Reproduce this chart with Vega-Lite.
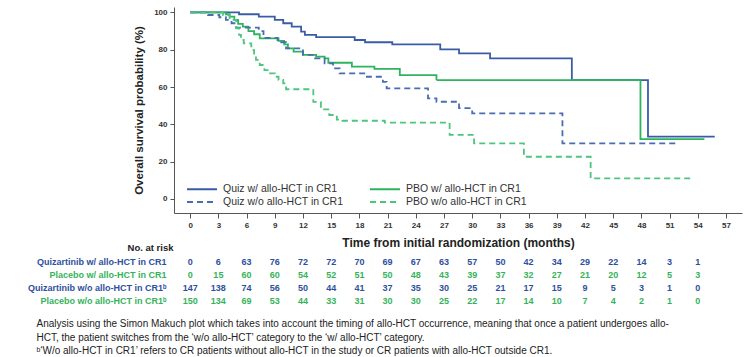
{
  "$schema": "https://vega.github.io/schema/vega-lite/v6.json",
  "padding": {"left": 27, "top": 7, "right": 6, "bottom": 2},
  "bounds": "flush",
  "spacing": 42,
  "config": {
    "font": "Liberation Sans",
    "view": {"stroke": null},
    "axis": {"grid": false, "domainColor": "#555", "tickColor": "#555", "labelColor": "#333", "titleColor": "#222"},
    "legend": {
      "orient": "none", "legendX": 21, "legendY": 175, "columns": 2,
      "symbolType": "M-2.5,0H2.5", "symbolSize": 144, "symbolStrokeWidth": 1.8,
      "labelOffset": 14, "labelFontSize": 10.5, "labelColor": "#333", "columnPadding": 22, "rowPadding": -2
    }
  },
  "resolve": {"scale": {"color": "independent", "x": "independent", "y": "independent"}},
  "title": {
    "text": [
      "Analysis using the Simon Makuch plot which takes into account the timing of allo-HCT occurrence, meaning that once a patient undergoes allo-",
      "HCT, the patient switches from the ‘w/o allo-HCT’ category to the ‘w/ allo-HCT’ category.",
      "ᵇ‘W/o allo-HCT in CR1’ refers to CR patients without allo-HCT in the study or CR patients with allo-HCT outside CR1."
    ],
    "orient": "bottom", "anchor": "start", "fontSize": 10, "fontWeight": "normal",
    "color": "#222", "lineHeight": 13.5, "offset": 12, "dx": 9
  },
  "datasets": {
    "curves": [
      {"group": "Quiz w/ allo-HCT in CR1", "t": 0, "s": 100},
      {"group": "Quiz w/ allo-HCT in CR1", "t": 5.2, "s": 99},
      {"group": "Quiz w/ allo-HCT in CR1", "t": 7.3, "s": 97.7},
      {"group": "Quiz w/ allo-HCT in CR1", "t": 9, "s": 96},
      {"group": "Quiz w/ allo-HCT in CR1", "t": 9.9, "s": 94.2},
      {"group": "Quiz w/ allo-HCT in CR1", "t": 10.8, "s": 92.4},
      {"group": "Quiz w/ allo-HCT in CR1", "t": 11.8, "s": 89.7},
      {"group": "Quiz w/ allo-HCT in CR1", "t": 12.2, "s": 88},
      {"group": "Quiz w/ allo-HCT in CR1", "t": 13.4, "s": 86.7},
      {"group": "Quiz w/ allo-HCT in CR1", "t": 17.5, "s": 85.2},
      {"group": "Quiz w/ allo-HCT in CR1", "t": 18.6, "s": 84},
      {"group": "Quiz w/ allo-HCT in CR1", "t": 21.5, "s": 82.9},
      {"group": "Quiz w/ allo-HCT in CR1", "t": 26.6, "s": 80.2},
      {"group": "Quiz w/ allo-HCT in CR1", "t": 28.6, "s": 78},
      {"group": "Quiz w/ allo-HCT in CR1", "t": 31.9, "s": 75.4},
      {"group": "Quiz w/ allo-HCT in CR1", "t": 40.6, "s": 63.7},
      {"group": "Quiz w/ allo-HCT in CR1", "t": 48.7, "s": 33.4},
      {"group": "Quiz w/ allo-HCT in CR1", "t": 55.8, "s": 33.4},

      {"group": "PBO w/ allo-HCT in CR1", "t": 0, "s": 100},
      {"group": "PBO w/ allo-HCT in CR1", "t": 3.8, "s": 99},
      {"group": "PBO w/ allo-HCT in CR1", "t": 4.2, "s": 97.7},
      {"group": "PBO w/ allo-HCT in CR1", "t": 4.7, "s": 96},
      {"group": "PBO w/ allo-HCT in CR1", "t": 5.1, "s": 93.8},
      {"group": "PBO w/ allo-HCT in CR1", "t": 5.6, "s": 92.4},
      {"group": "PBO w/ allo-HCT in CR1", "t": 6.2, "s": 90},
      {"group": "PBO w/ allo-HCT in CR1", "t": 6.8, "s": 88.3},
      {"group": "PBO w/ allo-HCT in CR1", "t": 7.4, "s": 86.1},
      {"group": "PBO w/ allo-HCT in CR1", "t": 9.4, "s": 84.7},
      {"group": "PBO w/ allo-HCT in CR1", "t": 10, "s": 82.9},
      {"group": "PBO w/ allo-HCT in CR1", "t": 10.4, "s": 80.7},
      {"group": "PBO w/ allo-HCT in CR1", "t": 11, "s": 79},
      {"group": "PBO w/ allo-HCT in CR1", "t": 12, "s": 77.2},
      {"group": "PBO w/ allo-HCT in CR1", "t": 13.4, "s": 76.3},
      {"group": "PBO w/ allo-HCT in CR1", "t": 14.3, "s": 75.4},
      {"group": "PBO w/ allo-HCT in CR1", "t": 14.7, "s": 73},
      {"group": "PBO w/ allo-HCT in CR1", "t": 17.2, "s": 70.9},
      {"group": "PBO w/ allo-HCT in CR1", "t": 19.6, "s": 69.7},
      {"group": "PBO w/ allo-HCT in CR1", "t": 22.3, "s": 66.4},
      {"group": "PBO w/ allo-HCT in CR1", "t": 26.2, "s": 63.7},
      {"group": "PBO w/ allo-HCT in CR1", "t": 47.9, "s": 32},
      {"group": "PBO w/ allo-HCT in CR1", "t": 54.7, "s": 32},

      {"group": "Quiz w/o allo-HCT in CR1", "t": 0, "s": 100},
      {"group": "Quiz w/o allo-HCT in CR1", "t": 1.9, "s": 98.6},
      {"group": "Quiz w/o allo-HCT in CR1", "t": 3.1, "s": 97.4},
      {"group": "Quiz w/o allo-HCT in CR1", "t": 3.8, "s": 96},
      {"group": "Quiz w/o allo-HCT in CR1", "t": 4.4, "s": 94.2},
      {"group": "Quiz w/o allo-HCT in CR1", "t": 4.9, "s": 91.8},
      {"group": "Quiz w/o allo-HCT in CR1", "t": 7.3, "s": 90},
      {"group": "Quiz w/o allo-HCT in CR1", "t": 7.8, "s": 86.3},
      {"group": "Quiz w/o allo-HCT in CR1", "t": 9.3, "s": 84},
      {"group": "Quiz w/o allo-HCT in CR1", "t": 10.2, "s": 80.7},
      {"group": "Quiz w/o allo-HCT in CR1", "t": 12, "s": 77.2},
      {"group": "Quiz w/o allo-HCT in CR1", "t": 13.2, "s": 75.4},
      {"group": "Quiz w/o allo-HCT in CR1", "t": 14.3, "s": 72.7},
      {"group": "Quiz w/o allo-HCT in CR1", "t": 15.2, "s": 70},
      {"group": "Quiz w/o allo-HCT in CR1", "t": 15.9, "s": 67.3},
      {"group": "Quiz w/o allo-HCT in CR1", "t": 18.8, "s": 65.5},
      {"group": "Quiz w/o allo-HCT in CR1", "t": 20.5, "s": 62.8},
      {"group": "Quiz w/o allo-HCT in CR1", "t": 20.9, "s": 59.3},
      {"group": "Quiz w/o allo-HCT in CR1", "t": 25.3, "s": 53.9},
      {"group": "Quiz w/o allo-HCT in CR1", "t": 26.2, "s": 52.1},
      {"group": "Quiz w/o allo-HCT in CR1", "t": 28.6, "s": 48.7},
      {"group": "Quiz w/o allo-HCT in CR1", "t": 30, "s": 45.9},
      {"group": "Quiz w/o allo-HCT in CR1", "t": 39.6, "s": 29.8},
      {"group": "Quiz w/o allo-HCT in CR1", "t": 51.9, "s": 29.8},

      {"group": "PBO w/o allo-HCT in CR1", "t": 0, "s": 100},
      {"group": "PBO w/o allo-HCT in CR1", "t": 3.5, "s": 98.5},
      {"group": "PBO w/o allo-HCT in CR1", "t": 4.2, "s": 96},
      {"group": "PBO w/o allo-HCT in CR1", "t": 4.9, "s": 91.5},
      {"group": "PBO w/o allo-HCT in CR1", "t": 5.2, "s": 88},
      {"group": "PBO w/o allo-HCT in CR1", "t": 5.4, "s": 85.2},
      {"group": "PBO w/o allo-HCT in CR1", "t": 5.7, "s": 83.4},
      {"group": "PBO w/o allo-HCT in CR1", "t": 6.5, "s": 79.8},
      {"group": "PBO w/o allo-HCT in CR1", "t": 6.8, "s": 77.2},
      {"group": "PBO w/o allo-HCT in CR1", "t": 7, "s": 74.5},
      {"group": "PBO w/o allo-HCT in CR1", "t": 7.4, "s": 71.8},
      {"group": "PBO w/o allo-HCT in CR1", "t": 7.9, "s": 69.1},
      {"group": "PBO w/o allo-HCT in CR1", "t": 8.4, "s": 67.3},
      {"group": "PBO w/o allo-HCT in CR1", "t": 9, "s": 65.5},
      {"group": "PBO w/o allo-HCT in CR1", "t": 9.4, "s": 63.8},
      {"group": "PBO w/o allo-HCT in CR1", "t": 9.9, "s": 62},
      {"group": "PBO w/o allo-HCT in CR1", "t": 10.2, "s": 58.8},
      {"group": "PBO w/o allo-HCT in CR1", "t": 13.1, "s": 52},
      {"group": "PBO w/o allo-HCT in CR1", "t": 13.9, "s": 48},
      {"group": "PBO w/o allo-HCT in CR1", "t": 14.8, "s": 45},
      {"group": "PBO w/o allo-HCT in CR1", "t": 15.6, "s": 42.5},
      {"group": "PBO w/o allo-HCT in CR1", "t": 16.2, "s": 41.9},
      {"group": "PBO w/o allo-HCT in CR1", "t": 20.7, "s": 40.9},
      {"group": "PBO w/o allo-HCT in CR1", "t": 27.6, "s": 34.3},
      {"group": "PBO w/o allo-HCT in CR1", "t": 30.2, "s": 29.8},
      {"group": "PBO w/o allo-HCT in CR1", "t": 35.5, "s": 22.6},
      {"group": "PBO w/o allo-HCT in CR1", "t": 42.6, "s": 11},
      {"group": "PBO w/o allo-HCT in CR1", "t": 53.3, "s": 11}
    ],
    "risk": [
      {"row": "Quizartinib w/ allo-HCT in CR1", "arm": "Quizartinib", "t": 0, "n": 0},
      {"row": "Quizartinib w/ allo-HCT in CR1", "arm": "Quizartinib", "t": 3, "n": 6},
      {"row": "Quizartinib w/ allo-HCT in CR1", "arm": "Quizartinib", "t": 6, "n": 63},
      {"row": "Quizartinib w/ allo-HCT in CR1", "arm": "Quizartinib", "t": 9, "n": 76},
      {"row": "Quizartinib w/ allo-HCT in CR1", "arm": "Quizartinib", "t": 12, "n": 72},
      {"row": "Quizartinib w/ allo-HCT in CR1", "arm": "Quizartinib", "t": 15, "n": 72},
      {"row": "Quizartinib w/ allo-HCT in CR1", "arm": "Quizartinib", "t": 18, "n": 70},
      {"row": "Quizartinib w/ allo-HCT in CR1", "arm": "Quizartinib", "t": 21, "n": 69},
      {"row": "Quizartinib w/ allo-HCT in CR1", "arm": "Quizartinib", "t": 24, "n": 67},
      {"row": "Quizartinib w/ allo-HCT in CR1", "arm": "Quizartinib", "t": 27, "n": 63},
      {"row": "Quizartinib w/ allo-HCT in CR1", "arm": "Quizartinib", "t": 30, "n": 57},
      {"row": "Quizartinib w/ allo-HCT in CR1", "arm": "Quizartinib", "t": 33, "n": 50},
      {"row": "Quizartinib w/ allo-HCT in CR1", "arm": "Quizartinib", "t": 36, "n": 42},
      {"row": "Quizartinib w/ allo-HCT in CR1", "arm": "Quizartinib", "t": 39, "n": 34},
      {"row": "Quizartinib w/ allo-HCT in CR1", "arm": "Quizartinib", "t": 42, "n": 29},
      {"row": "Quizartinib w/ allo-HCT in CR1", "arm": "Quizartinib", "t": 45, "n": 22},
      {"row": "Quizartinib w/ allo-HCT in CR1", "arm": "Quizartinib", "t": 48, "n": 14},
      {"row": "Quizartinib w/ allo-HCT in CR1", "arm": "Quizartinib", "t": 51, "n": 3},
      {"row": "Quizartinib w/ allo-HCT in CR1", "arm": "Quizartinib", "t": 54, "n": 1},

      {"row": "Placebo w/ allo-HCT in CR1", "arm": "Placebo", "t": 0, "n": 0},
      {"row": "Placebo w/ allo-HCT in CR1", "arm": "Placebo", "t": 3, "n": 15},
      {"row": "Placebo w/ allo-HCT in CR1", "arm": "Placebo", "t": 6, "n": 60},
      {"row": "Placebo w/ allo-HCT in CR1", "arm": "Placebo", "t": 9, "n": 60},
      {"row": "Placebo w/ allo-HCT in CR1", "arm": "Placebo", "t": 12, "n": 54},
      {"row": "Placebo w/ allo-HCT in CR1", "arm": "Placebo", "t": 15, "n": 52},
      {"row": "Placebo w/ allo-HCT in CR1", "arm": "Placebo", "t": 18, "n": 51},
      {"row": "Placebo w/ allo-HCT in CR1", "arm": "Placebo", "t": 21, "n": 50},
      {"row": "Placebo w/ allo-HCT in CR1", "arm": "Placebo", "t": 24, "n": 48},
      {"row": "Placebo w/ allo-HCT in CR1", "arm": "Placebo", "t": 27, "n": 43},
      {"row": "Placebo w/ allo-HCT in CR1", "arm": "Placebo", "t": 30, "n": 39},
      {"row": "Placebo w/ allo-HCT in CR1", "arm": "Placebo", "t": 33, "n": 37},
      {"row": "Placebo w/ allo-HCT in CR1", "arm": "Placebo", "t": 36, "n": 32},
      {"row": "Placebo w/ allo-HCT in CR1", "arm": "Placebo", "t": 39, "n": 27},
      {"row": "Placebo w/ allo-HCT in CR1", "arm": "Placebo", "t": 42, "n": 21},
      {"row": "Placebo w/ allo-HCT in CR1", "arm": "Placebo", "t": 45, "n": 20},
      {"row": "Placebo w/ allo-HCT in CR1", "arm": "Placebo", "t": 48, "n": 12},
      {"row": "Placebo w/ allo-HCT in CR1", "arm": "Placebo", "t": 51, "n": 5},
      {"row": "Placebo w/ allo-HCT in CR1", "arm": "Placebo", "t": 54, "n": 3},

      {"row": "Quizartinib w/o allo-HCT in CR1ᵇ", "arm": "Quizartinib", "t": 0, "n": 147},
      {"row": "Quizartinib w/o allo-HCT in CR1ᵇ", "arm": "Quizartinib", "t": 3, "n": 138},
      {"row": "Quizartinib w/o allo-HCT in CR1ᵇ", "arm": "Quizartinib", "t": 6, "n": 74},
      {"row": "Quizartinib w/o allo-HCT in CR1ᵇ", "arm": "Quizartinib", "t": 9, "n": 56},
      {"row": "Quizartinib w/o allo-HCT in CR1ᵇ", "arm": "Quizartinib", "t": 12, "n": 50},
      {"row": "Quizartinib w/o allo-HCT in CR1ᵇ", "arm": "Quizartinib", "t": 15, "n": 44},
      {"row": "Quizartinib w/o allo-HCT in CR1ᵇ", "arm": "Quizartinib", "t": 18, "n": 41},
      {"row": "Quizartinib w/o allo-HCT in CR1ᵇ", "arm": "Quizartinib", "t": 21, "n": 37},
      {"row": "Quizartinib w/o allo-HCT in CR1ᵇ", "arm": "Quizartinib", "t": 24, "n": 35},
      {"row": "Quizartinib w/o allo-HCT in CR1ᵇ", "arm": "Quizartinib", "t": 27, "n": 30},
      {"row": "Quizartinib w/o allo-HCT in CR1ᵇ", "arm": "Quizartinib", "t": 30, "n": 25},
      {"row": "Quizartinib w/o allo-HCT in CR1ᵇ", "arm": "Quizartinib", "t": 33, "n": 21},
      {"row": "Quizartinib w/o allo-HCT in CR1ᵇ", "arm": "Quizartinib", "t": 36, "n": 17},
      {"row": "Quizartinib w/o allo-HCT in CR1ᵇ", "arm": "Quizartinib", "t": 39, "n": 15},
      {"row": "Quizartinib w/o allo-HCT in CR1ᵇ", "arm": "Quizartinib", "t": 42, "n": 9},
      {"row": "Quizartinib w/o allo-HCT in CR1ᵇ", "arm": "Quizartinib", "t": 45, "n": 5},
      {"row": "Quizartinib w/o allo-HCT in CR1ᵇ", "arm": "Quizartinib", "t": 48, "n": 3},
      {"row": "Quizartinib w/o allo-HCT in CR1ᵇ", "arm": "Quizartinib", "t": 51, "n": 1},
      {"row": "Quizartinib w/o allo-HCT in CR1ᵇ", "arm": "Quizartinib", "t": 54, "n": 0},

      {"row": "Placebo w/o allo-HCT in CR1ᵇ", "arm": "Placebo", "t": 0, "n": 150},
      {"row": "Placebo w/o allo-HCT in CR1ᵇ", "arm": "Placebo", "t": 3, "n": 134},
      {"row": "Placebo w/o allo-HCT in CR1ᵇ", "arm": "Placebo", "t": 6, "n": 69},
      {"row": "Placebo w/o allo-HCT in CR1ᵇ", "arm": "Placebo", "t": 9, "n": 53},
      {"row": "Placebo w/o allo-HCT in CR1ᵇ", "arm": "Placebo", "t": 12, "n": 44},
      {"row": "Placebo w/o allo-HCT in CR1ᵇ", "arm": "Placebo", "t": 15, "n": 33},
      {"row": "Placebo w/o allo-HCT in CR1ᵇ", "arm": "Placebo", "t": 18, "n": 31},
      {"row": "Placebo w/o allo-HCT in CR1ᵇ", "arm": "Placebo", "t": 21, "n": 30},
      {"row": "Placebo w/o allo-HCT in CR1ᵇ", "arm": "Placebo", "t": 24, "n": 30},
      {"row": "Placebo w/o allo-HCT in CR1ᵇ", "arm": "Placebo", "t": 27, "n": 25},
      {"row": "Placebo w/o allo-HCT in CR1ᵇ", "arm": "Placebo", "t": 30, "n": 22},
      {"row": "Placebo w/o allo-HCT in CR1ᵇ", "arm": "Placebo", "t": 33, "n": 17},
      {"row": "Placebo w/o allo-HCT in CR1ᵇ", "arm": "Placebo", "t": 36, "n": 14},
      {"row": "Placebo w/o allo-HCT in CR1ᵇ", "arm": "Placebo", "t": 39, "n": 10},
      {"row": "Placebo w/o allo-HCT in CR1ᵇ", "arm": "Placebo", "t": 42, "n": 7},
      {"row": "Placebo w/o allo-HCT in CR1ᵇ", "arm": "Placebo", "t": 45, "n": 4},
      {"row": "Placebo w/o allo-HCT in CR1ᵇ", "arm": "Placebo", "t": 48, "n": 2},
      {"row": "Placebo w/o allo-HCT in CR1ᵇ", "arm": "Placebo", "t": 51, "n": 1},
      {"row": "Placebo w/o allo-HCT in CR1ᵇ", "arm": "Placebo", "t": 54, "n": 0}
    ]
  },
  "vconcat": [
    {
      "width": 568,
      "height": 206,
      "data": {"name": "curves"},
      "mark": {"type": "line", "interpolate": "step-after", "strokeWidth": 1.8},
      "encoding": {
        "x": {
          "field": "t", "type": "quantitative",
          "scale": {"domain": [-1.72, 58.7], "nice": false, "zero": false},
          "axis": {
            "values": [0, 3, 6, 9, 12, 15, 18, 21, 24, 27, 30, 33, 36, 39, 42, 45, 48, 51, 54, 57],
            "title": "Time from initial randomization (months)",
            "tickSize": 5, "labelPadding": 3, "labelFontSize": 8, "labelFontWeight": "bold",
            "titleFontSize": 12, "titleFontWeight": "bold", "titlePadding": 8
          }
        },
        "y": {
          "field": "s", "type": "quantitative",
          "scale": {"domain": [-7.56, 102.9], "nice": false, "zero": false},
          "axis": {
            "values": [0, 20, 40, 60, 80, 100],
            "title": "Overall survival probability (%)",
            "tickSize": 4, "labelPadding": 3, "labelFontSize": 8, "labelFontWeight": "bold",
            "titleFontSize": 11.5, "titleFontWeight": "bold", "titlePadding": 9
          }
        },
        "color": {
          "field": "group", "type": "nominal",
          "scale": {
            "domain": ["Quiz w/ allo-HCT in CR1", "Quiz w/o allo-HCT in CR1", "PBO w/ allo-HCT in CR1", "PBO w/o allo-HCT in CR1"],
            "range": ["#3a5ca7", "#4a6cb3", "#2eb35e", "#4cc57d"]
          },
          "legend": {
            "title": null,
            "encode": {
              "symbols": {
                "update": {
                  "strokeDash": {"signal": "indexof(datum.value, 'w/o') >= 0 ? [6, 4] : [1, 0]"}
                }
              }
            }
          }
        },
        "strokeDash": {
          "field": "group", "type": "nominal",
          "scale": {
            "domain": ["Quiz w/ allo-HCT in CR1", "Quiz w/o allo-HCT in CR1", "PBO w/ allo-HCT in CR1", "PBO w/o allo-HCT in CR1"],
            "range": [[1, 0], [6, 4], [1, 0], [6, 4]]
          },
          "legend": null
        }
      }
    },
    {
      "width": 568,
      "height": 52,
      "data": {"name": "risk"},
      "mark": {"type": "text", "fontSize": 9, "fontWeight": "bold"},
      "encoding": {
        "x": {
          "field": "t", "type": "quantitative",
          "scale": {"domain": [-1.72, 58.7], "nice": false, "zero": false},
          "axis": null
        },
        "y": {
          "field": "row", "type": "nominal",
          "sort": ["Quizartinib w/ allo-HCT in CR1", "Placebo w/ allo-HCT in CR1", "Quizartinib w/o allo-HCT in CR1ᵇ", "Placebo w/o allo-HCT in CR1ᵇ"],
          "scale": {"type": "point", "padding": 0.5},
          "axis": {
            "title": "No. at risk", "domain": false, "ticks": false,
            "labelFontSize": 9, "labelFontWeight": "bold", "labelPadding": 8,
            "labelColor": {"condition": {"test": "indexof(datum.value, 'Quizartinib') === 0", "value": "#2e4f9e"}, "value": "#35b35c"},
            "titleAngle": 0, "titleAlign": "right", "titleBaseline": "middle",
            "titleX": -1, "titleY": -7.5, "titleFontSize": 9.5, "titleFontWeight": "bold", "titleColor": "#222"
          }
        },
        "text": {"field": "n", "type": "quantitative"},
        "color": {
          "field": "arm", "type": "nominal",
          "scale": {"domain": ["Quizartinib", "Placebo"], "range": ["#2e4f9e", "#35b35c"]},
          "legend": null
        }
      }
    }
  ]
}
